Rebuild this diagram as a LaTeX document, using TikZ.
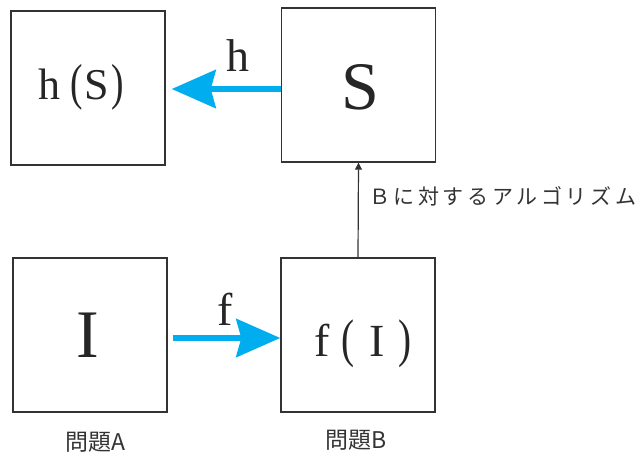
\documentclass[tikz,border=0pt]{standalone}
\usepackage{fontspec}
\setmainfont{Liberation Serif}
\newfontfamily\jp{Noto Sans CJK JP}
\usetikzlibrary{arrows.meta}
\definecolor{cyanarrow}{HTML}{00AEEF}
\definecolor{boxline}{HTML}{333333}
\newcommand{\ls}{\hspace{3.6pt}}
\newcommand{\lp}{\scalebox{0.85}[1.15]{(}}
\newcommand{\rp}{\scalebox{0.85}[1.15]{)}}
\begin{document}
\begin{tikzpicture}[x=1pt,y=-1pt,
  box/.style={draw=boxline, line width=1.4pt, minimum width=154pt, minimum height=154pt, inner sep=0pt},
  bigarrow/.style={draw=cyanarrow, fill=cyanarrow, line width=6pt, -{Stealth[length=44pt,width=38pt,inset=5pt]}},
  thinarrow/.style={draw=boxline, line width=1.2pt, -{Triangle[length=7pt,width=7pt]}},
  lbl/.style={font=\fontsize{46}{46}\selectfont, inner sep=0pt, text=black!85, anchor=base},
  big/.style={font=\fontsize{68}{68}\selectfont, inner sep=0pt, text=black!85, anchor=base},
  jptext/.style={font=\jp\fontsize{21}{21}\selectfont, inner sep=0pt, text=black!80},
  caption/.style={font=\jp\fontsize{23}{23}\selectfont, inner sep=0pt, text=black!80}]
\useasboundingbox (0,0) rectangle (637,457);
\node[box] (hS) at (88,88) {};
\node[box] (S) at (358.5,85) {};
\node[box] (I) at (90,335) {};
\node[box] (fI) at (358,335) {};
\node[lbl, font=\fontsize{44}{44}\selectfont] (hStext) at (81,100) {h\hspace{10pt}\lp\hspace{2pt}S\hspace{2pt}\rp};
\node[big] (Stext) at (360,110) {S};
\node[big] (Itext) at (88,357) {I};
\node[lbl] (fItext) at (363,356) {f\hspace{12pt}\lp\hspace{14pt}I\hspace{14pt}\rp};
\draw[bigarrow, shorten >=6pt] ([yshift=-4pt]S.west) -- ([yshift=-4pt]S.west -| hS.east);
\draw[bigarrow, shorten <=5pt] ([yshift=-3pt]I.east) -- ([yshift=-3pt]I.east -| fI.west);
\node[lbl] (hlab) at (238,72) {h};
\node[lbl] (flab) at (225,325) {f};
\draw[thinarrow] (fI.north) -- (S.south);
\node[jptext, anchor=base west] (alg) at (369,205) {Ｂ\ls に\ls 対\ls す\ls る\ls ア\ls ル\ls ゴ\ls リ\ls ズ\ls ム};
\node[caption] (pA) at (95,442) {問題A};
\node[caption] (pB) at (356,440) {問題B};
\end{tikzpicture}
\end{document}
